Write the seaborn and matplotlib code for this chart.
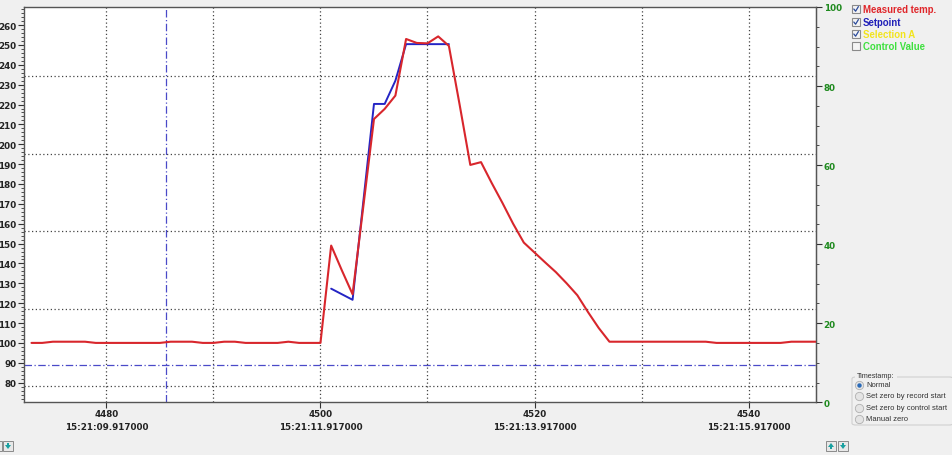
import numpy as np
import pandas as pd
import matplotlib
matplotlib.use("Agg")
import matplotlib.pyplot as plt
from matplotlib.patches import Rectangle, FancyBboxPatch, Polygon
from matplotlib.lines import Line2D
from matplotlib.ticker import MultipleLocator, FixedLocator
import seaborn as sns

# ---------------- data ----------------
red_t = list(range(4473, 4548))
red_v = [100, 100, 100.6, 100.6, 100.6, 100.6, 100, 100, 100, 100,
         100, 100, 100, 100.6, 100.6, 100.6, 100, 100, 100.6, 100.6,
         100, 100, 100, 100, 100.6, 100, 100, 100, 149, 136.5,
         124.5, 168.5, 212.7, 217.8, 224.5, 253, 251, 250.8, 254.3, 249.5,
         220, 189.6, 191, 180.5, 170.5, 160, 150.5, 145.5, 140.5, 135.6,
         130, 124, 115.5, 107.5, 100.6, 100.6, 100.6, 100.6, 100.6, 100.6,
         100.6, 100.6, 100.6, 100.6, 100, 100, 100, 100, 100, 100,
         100, 100.6, 100.6, 100.6, 100.6]
blue_t = [4501, 4502, 4503, 4504, 4505, 4506, 4507, 4508, 4509, 4510, 4511, 4512]
blue_v = [127.3, 124.5, 121.7, 171, 220.3, 220.3, 232, 250.4, 250.4, 250.4, 250.4, 250.4]

x_ticks = [4480, 4500, 4520, 4540]
x_time_labels = ["15:21:09.917000", "15:21:11.917000", "15:21:13.917000", "15:21:15.917000"]
left_ticks = list(range(80, 261, 10))
right_ticks = [0, 20, 40, 60, 80, 100]
legend_names = ["Measured temp.", "Setpoint", "Selection A", "Control Value"]
legend_colors = ["#e0262a", "#2020b8", "#f2e41c", "#3ee03e"]
legend_checked = [True, True, True, False]
radio_names = ["Normal", "Set zero by record start", "Set zero by control start", "Manual zero"]

df_red = pd.DataFrame({"t": red_t, "v": red_v})
df_blue = pd.DataFrame({"t": blue_t, "v": blue_v})

# ---------------- figure ----------------
sns.set_style("white")
plt.rcParams['font.family'] = ['DejaVu Sans']
W, H = 953, 456
fig = plt.figure(figsize=(W / 100, H / 100), dpi=100, facecolor="#f0f0f0")

def fx(px):
    return px / W

def fy(py):
    return 1 - py / H

L, R, T, B = 24, 816, 8, 403.3
ax = fig.add_axes([fx(L), fy(B), fx(R) - fx(L), fy(T) - fy(B)])
ax.set_facecolor("white")
ax.set_xlim(4472.3, 4546.3)
ax.set_ylim(70.1, 269.1)

# grid
grid_kw = dict(color="#444444", linewidth=0.9, linestyle=(0, (1, 2)), zorder=1)
for gx in range(4480, 4541, 10):
    ax.axvline(gx, **grid_kw)
for gy in [78.2, 117.2, 156.2, 195.2, 234.2]:
    ax.axhline(gy, **grid_kw)

# blue dash-dot markers
ax.axhline(88.7, color="#4a4ac8", linewidth=0.9, linestyle=(0, (6, 2, 1, 2)), zorder=1.5)
ax.axvline(4485.6, color="#4a4ac8", linewidth=0.9, linestyle=(0, (6, 2, 1, 2)), zorder=1.5)

sns.lineplot(data=df_red, x="t", y="v", ax=ax, color="#d8262c", linewidth=1.5, zorder=3)
sns.lineplot(data=df_blue, x="t", y="v", ax=ax, color="#2424c4", linewidth=1.4, zorder=2.5)
ax.set_xlabel("")
ax.set_ylabel("")

for s in ax.spines.values():
    s.set_color("#555555")
    s.set_linewidth(1.0)

tick_font = dict(fontsize=6.3, fontweight="bold")
ax.yaxis.set_major_locator(FixedLocator(left_ticks))
ax.yaxis.set_minor_locator(MultipleLocator(2))
ax.set_yticklabels([str(v) for v in left_ticks], **tick_font, color="#222222")
ax.tick_params(axis="y", which="major", direction="out", length=4, width=0.8, color="#333333", pad=1.5, left=True)
ax.tick_params(axis="y", which="minor", direction="out", length=2, width=0.6, color="#333333", left=True)

ax.xaxis.set_major_locator(FixedLocator(x_ticks))
ax.set_xticklabels([f"{t}\n{s}" for t, s in zip(x_ticks, x_time_labels)], **tick_font,
                   color="#222222", linespacing=1.55)
ax.tick_params(axis="x", which="major", direction="out", length=4, width=0.8, color="#333333", pad=1, bottom=True)

# right axis
ax2 = ax.twinx()
ax2.set_ylim(0, 100)
ax2.yaxis.set_major_locator(FixedLocator(right_ticks))
ax2.yaxis.set_minor_locator(MultipleLocator(5))
ax2.set_yticklabels([str(v) for v in right_ticks], **tick_font, color="#1e8a1e")
ax2.tick_params(axis="y", which="major", direction="out", length=4, width=0.8, color="#333333", pad=1.5, right=True)
ax2.tick_params(axis="y", which="minor", direction="out", length=2, width=0.6, color="#333333", right=True)
for s in ax2.spines.values():
    s.set_visible(False)
ax2.spines["right"].set_visible(True)
ax2.spines["right"].set_color("#555555")

# ---------------- legend (checkboxes) ----------------
rows = [10, 23, 35, 47]
for name, col, chk, ry in zip(legend_names, legend_colors, legend_checked, rows):
    box = Rectangle((fx(852), fy(ry + 4)), fx(8), 8 / H, transform=fig.transFigure,
                    facecolor="#f4f4f4", edgecolor="#8a8a8a", linewidth=0.8)
    fig.add_artist(box)
    if chk:
        fig.add_artist(Line2D([fx(853.8), fx(855.6), fx(858.4)], [fy(ry), fy(ry + 2.2), fy(ry - 2.4)],
                              transform=fig.transFigure, color="#2a4a9a", linewidth=0.9))
    fig.text(fx(863), fy(ry), name, fontsize=6.9, fontweight="bold", color=col,
             family=["Liberation Sans", "DejaVu Sans"], ha="left", va="center")

# ---------------- timestamp group ----------------
grp = FancyBboxPatch((fx(852), fy(426)), fx(953 - 852), (426 - 378) / H,
                     boxstyle="round,pad=0,rounding_size=0.004", transform=fig.transFigure,
                     facecolor="none", edgecolor="#d0d0d0", linewidth=0.8)
fig.add_artist(grp)
fig.add_artist(Rectangle((fx(855), fy(380)), fx(42), 6 / H, transform=fig.transFigure,
                         facecolor="#f0f0f0", edgecolor="none"))
small_fam = ["Liberation Sans", "DejaVu Sans"]
fig.text(fx(857), fy(377), "Timestamp:", fontsize=5.2, color="#333333", family=small_fam,
         ha="left", va="center")
for i, (name, ry) in enumerate(zip(radio_names, [386, 397, 409, 420])):
    fig.add_artist(Line2D([fx(859)], [fy(ry)], transform=fig.transFigure, marker="o",
                          markersize=6, markerfacecolor="#e4e4e4", markeredgecolor="#b0b0b0",
                          markeredgewidth=0.6, linestyle="none"))
    if i == 0:
        fig.add_artist(Line2D([fx(859)], [fy(ry)], transform=fig.transFigure, marker="o",
                              markersize=3.2, markerfacecolor="#2a6ab8", markeredgecolor="none",
                              linestyle="none"))
    fig.text(fx(866), fy(ry), name, fontsize=5.5, color="#333333", family=small_fam,
             ha="left", va="center")

# ---------------- small arrow buttons ----------------
def button(x0, y0, up):
    fig.add_artist(Rectangle((fx(x0), fy(y0 + 10)), fx(10), 10 / H, transform=fig.transFigure,
                             facecolor="#e8e8e8", edgecolor="#8a8a8a", linewidth=0.7))
    cx, cy = x0 + 5, y0 + 5
    if up:
        pts = [(cx - 3, cy + 1), (cx + 3, cy + 1), (cx, cy - 3)]
    else:
        pts = [(cx - 3, cy - 1), (cx + 3, cy - 1), (cx, cy + 3)]
    fig.add_artist(Polygon([(fx(px), fy(py)) for px, py in pts], closed=True,
                           transform=fig.transFigure, facecolor="#1aa0a0", edgecolor="none"))
    fig.add_artist(Rectangle((fx(cx - 1), fy(cy + 3) if up else fy(cy - 1)), fx(2), 2 / H,
                             transform=fig.transFigure, facecolor="#1aa0a0", edgecolor="none"))

button(-8, 442, True)
button(3, 442, False)
button(826, 442, True)
button(838, 442, False)

fig.savefig("out.png", dpi=100, facecolor=fig.get_facecolor())
